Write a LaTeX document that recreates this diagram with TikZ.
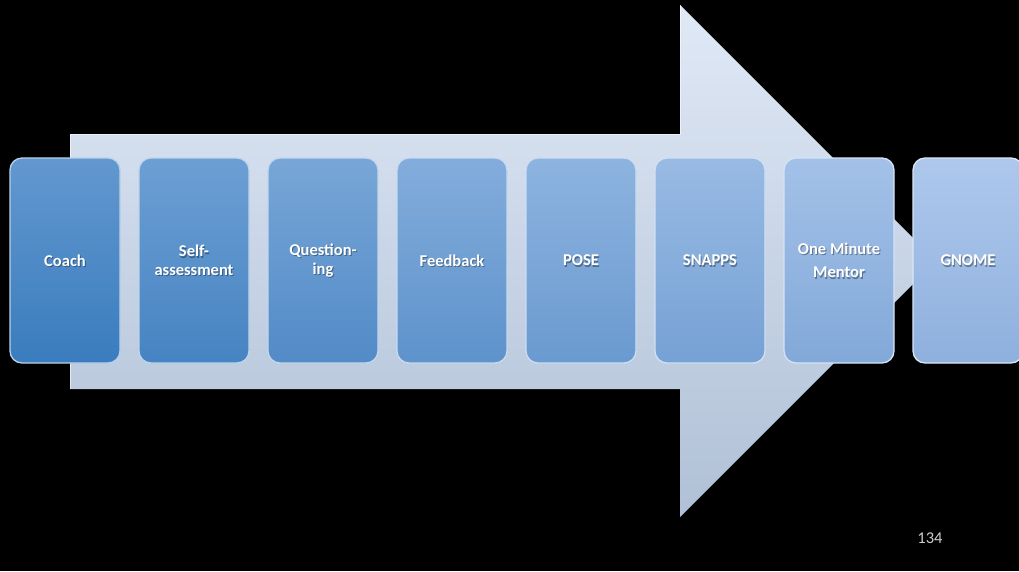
\documentclass[tikz,border=0pt]{standalone}
\usepackage{fontspec}
\setmainfont{Carlito}
\definecolor{arrtop}{RGB}{224,233,246}
\definecolor{arrbot}{RGB}{176,192,214}
\definecolor{btopL}{RGB}{98,152,207}
\definecolor{bbotL}{RGB}{58,124,190}
\definecolor{btopR}{RGB}{174,200,236}
\definecolor{bbotR}{RGB}{142,176,221}
\definecolor{pagegray}{RGB}{205,205,205}
\tikzset{
  boxnode/.style={rounded corners=12pt, minimum width=110pt, minimum height=205pt,
    inner sep=0pt},
  labeltext/.style={align=center, font=\fontsize{16.5}{18.5}\selectfont\bfseries},
}
\begin{document}
\begin{tikzpicture}[x=1pt,y=-1pt]
\useasboundingbox (0,0) rectangle (1019,571);
\fill[black] (0,0) rectangle (1019,571);
\clip (0,0) rectangle (1019,571);
% big arrow
\shade[top color=arrtop, bottom color=arrbot]
  (70,134) -- (680,134) -- (680,5) -- (936,261) -- (680,517) -- (680,389) -- (70,389) -- cycle;
\draw[white, opacity=0.6, line width=0.8pt] (70,389) -- (70,134) -- (680,134) -- (680,5);
% boxes
\foreach \i/\cx/\txt in {0/65/Coach, 1/194/{Self-\\assessment}, 2/323/{Question-\\ing},
  3/452/Feedback, 4/581/POSE, 5/710/SNAPPS, 6/839/{One Minute\\[5pt]Mentor}, 7/968/GNOME}{
  \pgfmathsetmacro{\p}{100-\i*100/7}
  \colorlet{ctop}{btopL!\p!btopR}
  \colorlet{cbot}{bbotL!\p!bbotR}
  \node[boxnode, top color=ctop, bottom color=cbot, draw=ctop!45!white, line width=1.3pt]
    (b\i) at (\cx,260.5) {};
  \node[labeltext, text=black, opacity=0.35] (s\i) at ([xshift=1pt,yshift=-1.2pt]b\i.center) {\txt};
  \node[labeltext, text=white] (t\i) at (b\i.center) {\txt};
}
\node[text=pagegray, font=\fontsize{16.5}{18}\selectfont] (pg) at (930,538) {134};
\end{tikzpicture}
\end{document}
